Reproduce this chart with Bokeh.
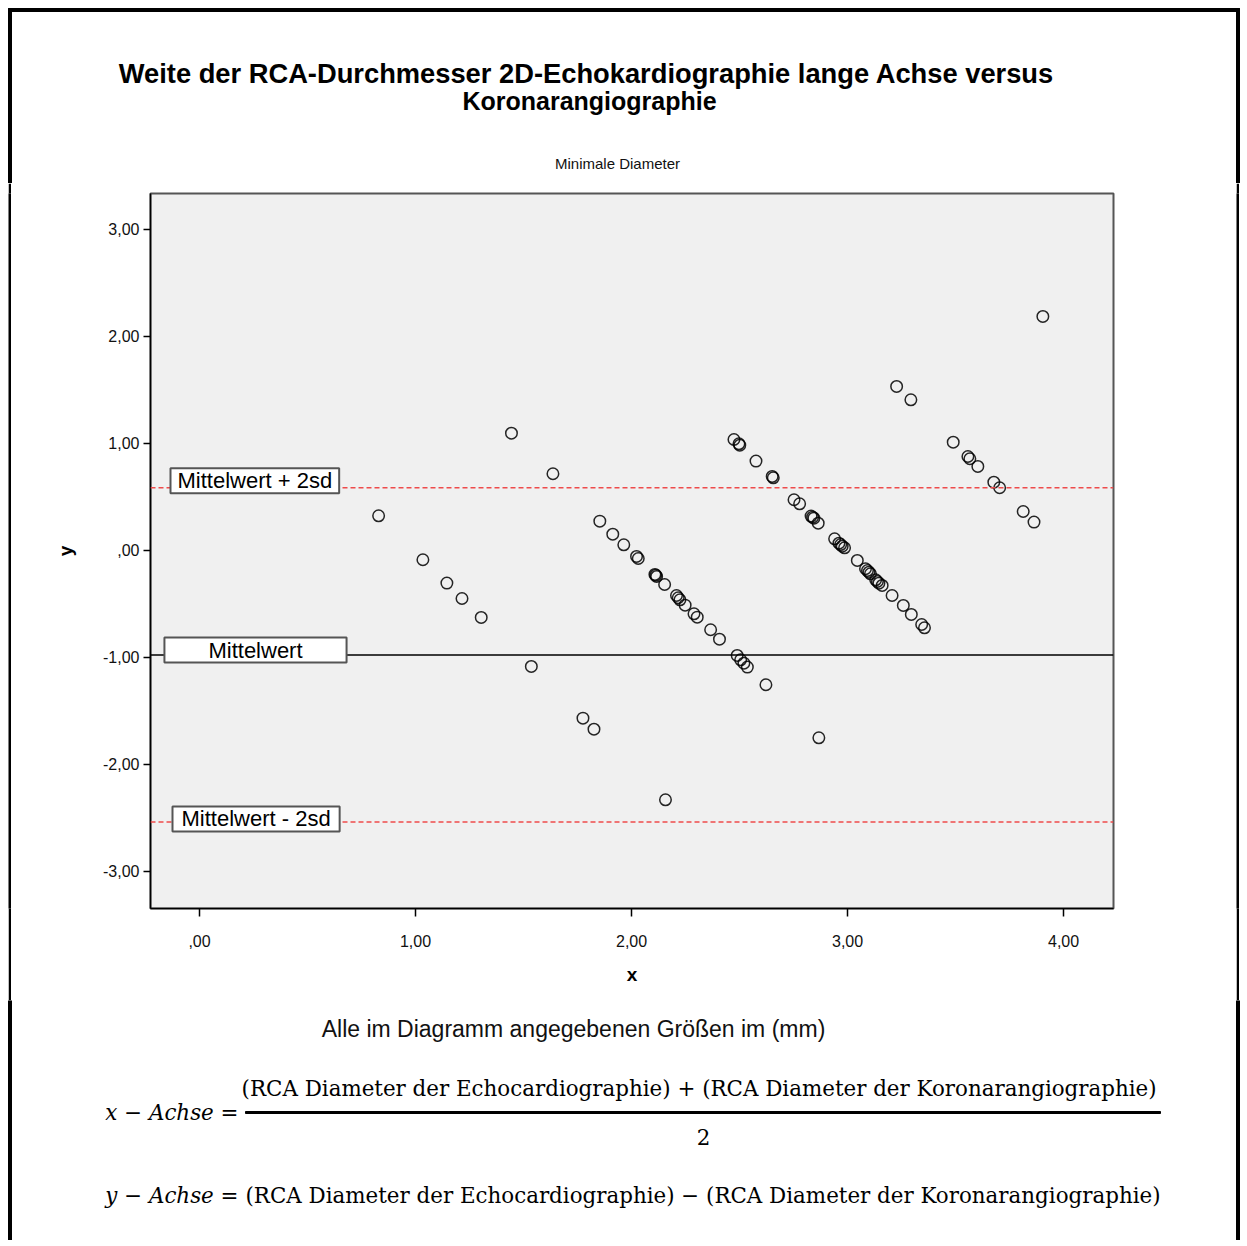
from bokeh.plotting import figure
from bokeh.models import Range1d, FixedTicker, Span, Label, Spacer
from bokeh.layouts import column, row
from bokeh.core.properties import value
from bokeh.embed import file_html
from bokeh.resources import INLINE

# ---- data ----
x_vals = [0.829, 1.034, 1.145, 1.215, 1.304, 1.444, 1.536, 1.636, 1.775, 1.826, 2.157, 2.622, 2.867,
          1.853, 1.913, 1.964, 2.023, 2.031, 2.108, 2.112, 2.116, 2.153, 2.208, 2.216, 2.224, 2.248,
          2.289, 2.304, 2.366, 2.407, 2.489, 2.505, 2.520, 2.536,
          2.474, 2.497, 2.501, 2.576, 2.651, 2.656, 2.752, 2.778, 2.831, 2.838, 2.844, 2.864, 2.940,
          2.960, 2.968, 2.975, 2.986, 3.045, 3.083, 3.092, 3.099, 3.106, 3.130, 3.138, 3.145, 3.160,
          3.206, 3.258, 3.295, 3.343, 3.356,
          3.227, 3.293, 3.489, 3.557, 3.566, 3.603, 3.677, 3.704, 3.813, 3.863, 3.904]
y_vals = [0.324, -0.087, -0.305, -0.449, -0.626, 1.096, -1.084, 0.717, -1.567, -1.670, -2.330, -1.255, -1.751,
          0.274, 0.152, 0.053, -0.056, -0.075, -0.224, -0.232, -0.243, -0.318, -0.421, -0.442, -0.461, -0.511,
          -0.592, -0.623, -0.741, -0.829, -0.981, -1.022, -1.053, -1.090,
          1.037, 0.997, 0.984, 0.835, 0.692, 0.679, 0.474, 0.436, 0.321, 0.311, 0.302, 0.255, 0.109,
          0.068, 0.055, 0.040, 0.025, -0.093, -0.171, -0.188, -0.203, -0.218, -0.274, -0.290, -0.306, -0.327,
          -0.421, -0.514, -0.598, -0.692, -0.723,
          1.533, 1.408, 1.012, 0.878, 0.857, 0.785, 0.638, 0.586, 0.364, 0.265, 2.187]

mean_diff = -0.977
upper_loa = 0.585
lower_loa = -2.537

x_ticks = [0, 1, 2, 3, 4]
x_tick_labels = [",00", "1,00", "2,00", "3,00", "4,00"]
y_ticks = [-3, -2, -1, 0, 1, 2, 3]
y_tick_labels = ["-3,00", "-2,00", "-1,00", ",00", "1,00", "2,00", "3,00"]

title_line1 = "Weite der RCA-Durchmesser 2D-Echokardiographie lange Achse versus"
title_line2 = "Koronarangiographie"
subtitle = "Minimale Diameter"
footnote = "Alle im Diagramm angegebenen Größen im (mm)"
line_labels = ["Mittelwert + 2sd", "Mittelwert", "Mittelwert - 2sd"]
formula_x_lhs = "x − Achse ="
formula_x_num = "(RCA Diameter der Echocardiographie) +  (RCA Diameter der Koronarangiographie)"
formula_x_den = "2"
formula_y_lhs = "y − Achse ="
formula_y_rhs = "(RCA Diameter der Echocardiographie) −  (RCA Diameter der Koronarangiographie)"

SANS = "Liberation Sans"
SERIF = "DejaVu Serif"
PAGE_W = 1240


def page_fig(width, height, y_top, y_bot, x_left=0):
    """A figure whose frame is its whole canvas, in page pixel coordinates (y downward)."""
    f = figure(width=width, height=height, output_backend="svg", toolbar_location=None,
               x_range=Range1d(x_left, x_left + width), y_range=Range1d(y_bot, y_top),
               x_axis_type=None, y_axis_type=None, min_border=0,
               background_fill_color="white", border_fill_color="white")
    f.outline_line_color = None
    f.grid.visible = False
    return f


def strip(height):
    f = figure(width=3, height=height, output_backend="svg", toolbar_location=None,
               x_axis_type=None, y_axis_type=None, min_border=0,
               background_fill_color="black", border_fill_color="black")
    f.outline_line_color = None
    f.grid.visible = False
    return f


# ---------------- title block (page y 0..183) ----------------
top = page_fig(PAGE_W, 183, 0, 183)
top.quad(left=[8], right=[1239], top=[8], bottom=[11], color="black")
top.quad(left=[8, 1236], right=[11, 1239], top=[8, 8], bottom=[183, 183], color="black")
top.text(x=[586], y=[73], text=[title_line1], text_font=value(SANS), text_font_style="bold",
         text_font_size="27.3px", text_align="center", text_baseline="middle", text_color="black")
top.text(x=[589], y=[100], text=[title_line2], text_font=value(SANS), text_font_style="bold",
         text_font_size="25px", text_align="center", text_baseline="middle", text_color="black")
top.text(x=[617], y=[163], text=[subtitle], text_font=value(SANS),
         text_font_size="15px", text_align="center", text_baseline="middle", text_color="#111111")

# ---------------- main chart (page x 11..1236, y 183..1000) ----------------
p = figure(width=1225, height=817, output_backend="svg", toolbar_location=None,
           x_range=Range1d(-0.227, 4.231), y_range=Range1d(-3.346, 3.336),
           min_border_left=139, min_border_right=123, min_border_top=10, min_border_bottom=92,
           background_fill_color="#f0f0f0", border_fill_color="white")
p.grid.visible = False
p.outline_line_color = "#555555"
p.outline_line_width = 2

for ax in (p.xaxis, p.yaxis):
    ax.axis_line_color = "black"
    ax.axis_line_width = 1.5
    ax.major_tick_line_color = "black"
    ax.major_tick_line_width = 1.5
    ax.major_tick_in = 0
    ax.minor_tick_line_color = None
    ax.major_label_text_font = SANS
    ax.major_label_text_font_size = "16px"
    ax.major_label_text_color = "#111111"
    ax.axis_label_text_font = SANS
    ax.axis_label_text_font_style = "bold"
    ax.axis_label_text_font_size = "19px"
    ax.axis_label_text_color = "black"

p.xaxis.ticker = FixedTicker(ticks=x_ticks)
p.xaxis.major_label_overrides = {t: l for t, l in zip(x_ticks, x_tick_labels)}
p.xaxis.major_tick_out = 8
p.xaxis.major_label_standoff = 18
p.xaxis.axis_label = "x"
p.xaxis.axis_label_standoff = 14

p.yaxis.ticker = FixedTicker(ticks=y_ticks)
p.yaxis.major_label_overrides = {t: l for t, l in zip(y_ticks, y_tick_labels)}
p.yaxis.major_tick_out = 7
p.yaxis.major_label_standoff = 4
p.yaxis.axis_label = "y"
p.yaxis.axis_label_standoff = 24

p.add_layout(Span(location=mean_diff, dimension="width", line_color="black", line_width=1.5))
for loc in (upper_loa, lower_loa):
    p.add_layout(Span(location=loc, dimension="width", line_color="#ee4b4b",
                      line_width=1.5, line_dash="5 3"))

p.scatter(x_vals, y_vals, marker="circle", size=11.5, fill_color=None,
          line_color="black", line_width=1.5, line_alpha=0.85)

box_specs = [(line_labels[0], upper_loa, 20, 7, "left", (7, 0)),
             (line_labels[1], mean_diff, 105, 5, "center", (44, 0)),
             (line_labels[2], lower_loa, 22, 3, "left", (9, 0))]
for txt, loc, sx, yoff, align, pad in box_specs:
    p.add_layout(Label(x=sx, y=loc, x_units="screen", y_units="data", y_offset=yoff,
                       text=txt, text_font=SANS, text_font_size="22px", text_color="black",
                       text_align=align, text_baseline="middle",
                       background_fill_color="white", border_line_color="#555555",
                       border_line_width=2, padding=pad))

middle = row(Spacer(width=8, height=817), strip(817), p, strip(817))

# ---------------- footnote + formulas (page y 1000..1240) ----------------
bot = page_fig(PAGE_W, 240, 1000, 1240)
bot.quad(left=[8, 1236], right=[11, 1239], top=[1000, 1000], bottom=[1240, 1240], color="black")
bot.text(x=[573], y=[1028], text=[footnote], text_font=value(SANS), text_font_size="23px",
         text_align="center", text_baseline="middle", text_color="#111111")
bot.text(x=[238], y=[1112], text=[formula_x_lhs], text_font=value(SERIF), text_font_style="italic",
         text_font_size="21.4px", text_align="right", text_baseline="middle", text_color="black")
bot.text(x=[702], y=[1088], text=[formula_x_num], text_font=value(SERIF),
         text_font_size="21.4px", text_align="center", text_baseline="middle", text_color="black")
bot.quad(left=[245], right=[1160], top=[1111], bottom=[1113], color="black")
bot.text(x=[703], y=[1136], text=[formula_x_den], text_font=value(SERIF),
         text_font_size="21.4px", text_align="center", text_baseline="middle", text_color="black")
bot.text(x=[238], y=[1195], text=[formula_y_lhs], text_font=value(SERIF), text_font_style="italic",
         text_font_size="21.4px", text_align="right", text_baseline="middle", text_color="black")
bot.text(x=[245], y=[1195], text=[formula_y_rhs], text_font=value(SERIF),
         text_font_size="21.4px", text_align="left", text_baseline="middle", text_color="black")

layout = column(top, middle, bot)
open("out.html", "w").write(file_html(layout, INLINE))
